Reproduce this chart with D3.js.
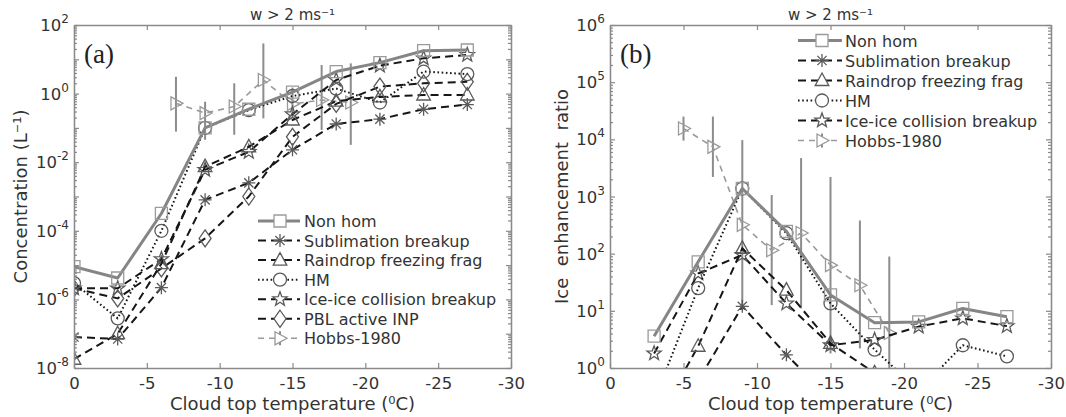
<!DOCTYPE html>
<html>
<head>
<meta charset="utf-8">
<script src="https://cdn.jsdelivr.net/npm/d3@7"></script>
<style>
  body { margin: 0; background: #fff; }
  svg { display: block; font-family: "DejaVu Sans", sans-serif; }
</style>
</head>
<body>
<svg id="chart" width="1066" height="417"></svg>
<script>
// ---- data ----
const xTicks = [0, -5, -10, -15, -20, -25, -30];

// panel (a): concentration (L^-1)
const tempsA = [0, -3, -6, -9, -12, -15, -18, -21, -24, -27];
const nonHomA = [9e-6, 4.2e-6, 3.2e-4, 0.1, 0.35, 1.1, 4.4, 8, 17.8, 18.7];
const sublimA = [8e-8, 7e-8, 2.2e-6, 8e-4, 2.5e-3, 0.023, 0.13, 0.18, 0.35, 0.48];
const raindropA = [1.8e-8, 1e-7, 1.1e-5, 7.4e-3, 0.028, 0.17, 0.6, 0.8, 0.91, 0.91];
const hmA = [3e-6, 2.8e-7, 1e-4, 0.1, 0.33, 0.85, 1.4, 0.55, 4.4, 3.7];
const iceIceA = [2.1e-6, 2.1e-6, 1.5e-5, 6e-3, 0.02, 0.25, 2.5, 6.5, 10.7, 13.4];
const pblA = [2.1e-6, 1.07e-6, 8e-6, 6e-5, 1e-3, 0.055, 0.5, 1.6, 2.0, 2.2];
const hobbsTempsA = [-7, -9, -11, -13, -15, -17, -19];
const hobbsA = [0.52, 0.27, 0.42, 2.5, 0.5, 0.65, 0.55];
const hobbsLoA = [0.078, 0.045, 0.063, 0.19, 0.2, 0.087, 0.032];
const hobbsHiA = [3.1, 0.58, 2.0, 29, 1.5, 6.8, 7.6];
const yExpA = [-8, -6, -4, -2, 0, 2];

// panel (b): ice enhancement ratio
const tempsB = [-3, -6, -9, -12, -15, -18, -21, -24, -27];
const nonHomB = [3.6, 72, 1380, 245, 19, 6.2, 6.4, 11, 7.9];
const sublimB = [0.03, 0.6, 12, 1.7, 0.29, 0.1, 0.05, 0.05, 0.05];
const raindropB = [0.1, 2.4, 124, 23, 2.7, 0.82, 0.3, 0.3, 0.3];
const hmB = [0.27, 25, 1380, 228, 13.5, 2.1, 0.4, 2.5, 1.6];
const iceIceB = [1.8, 45, 95, 13.5, 2.5, 3.1, 5.3, 7.4, 5.4];
const hobbsTempsB = [-5, -7, -9, -11, -13, -15, -17, -19];
const hobbsB = [15500, 7400, 320, 115, 230, 63, 28, 4.1];
const hobbsLoB = [9500, 2200, 12, 12.6, 11, 1.8, 2.2, 0.3];
const hobbsHiB = [25000, 25000, 9700, 1060, 4700, 2200, 380, 89];
const yExpB = [0, 1, 2, 3, 4, 5, 6];

const legendA = ['Non hom', 'Sublimation breakup', 'Raindrop freezing frag', 'HM',
  'Ice-ice collision breakup', 'PBL active INP', 'Hobbs-1980'];
const legendB = ['Non hom', 'Sublimation breakup', 'Raindrop freezing frag', 'HM',
  'Ice-ice collision breakup', 'Hobbs-1980'];

// ---- styles ----
const GRAY = '#858585';
const BLACK = '#161616';
const MK = '#5a5a5a';
const AX = '#8a8a8a';
const TXT = '#333';

const styles = {
  'Non hom': { color: GRAY, width: 3, dash: null, marker: 'square', mcolor: '#9a9a9a' },
  'Sublimation breakup': { color: BLACK, width: 2, dash: '8,5', marker: 'asterisk', mcolor: MK },
  'Raindrop freezing frag': { color: BLACK, width: 2, dash: '8,5', marker: 'triUp', mcolor: MK },
  'HM': { color: BLACK, width: 2, dash: '1.6,2.6', marker: 'circle', mcolor: MK },
  'Ice-ice collision breakup': { color: BLACK, width: 2, dash: '8,5', marker: 'star', mcolor: MK },
  'PBL active INP': { color: BLACK, width: 2, dash: '8,5', marker: 'diamond', mcolor: MK },
  'Hobbs-1980': { color: '#9a9a9a', width: 1.6, dash: '6,5', marker: 'triRight', mcolor: '#9a9a9a' }
};

function markerPath(type) {
  switch (type) {
    case 'square': return 'M-6,-6h12v12h-12z';
    case 'circle': { const p = d3.path(); p.arc(0, 0, 6.5, 0, 2 * Math.PI); p.closePath(); return p.toString(); }
    case 'triUp': return 'M0,-7.5L6.8,5L-6.8,5Z';
    case 'diamond': return 'M0,-8.5L6,0L0,8.5L-6,0Z';
    case 'triRight': return 'M-5,-6.5L7,0L-5,6.5Z';
    case 'asterisk': return 'M-6.5,0H6.5M0,-6.5V6.5M-4.6,-4.6L4.6,4.6M-4.6,4.6L4.6,-4.6';
    case 'star': {
      const pts = [];
      for (let i = 0; i < 10; i++) {
        const r = i % 2 === 0 ? 7.5 : 3.1;
        const a = -Math.PI / 2 + i * Math.PI / 5;
        pts.push([r * Math.cos(a), r * Math.sin(a)]);
      }
      return 'M' + pts.map(p => p.join(',')).join('L') + 'Z';
    }
  }
  return '';
}

const svg = d3.select('#chart');

function drawPanel(cfg) {
  const { L, R, T, B } = cfg;
  const x = d3.scaleLinear().domain([0, -30]).range([L, R]);
  const y = d3.scaleLog().domain(cfg.yDomain).range([B, T]);
  const g = svg.append('g');

  const clipId = 'clip-' + cfg.tag;
  svg.append('clipPath').attr('id', clipId)
    .append('rect').attr('x', L).attr('y', T).attr('width', R - L).attr('height', B - T);

  const plot = g.append('g').attr('clip-path', `url(#${clipId})`);
  const line = d3.line().x(d => x(d[0])).y(d => y(d[1]));

  // Hobbs error bars
  const hob = cfg.hobbs.t.map((t, i) => [t, cfg.hobbs.v[i], cfg.hobbs.lo[i], cfg.hobbs.hi[i]]);
  plot.selectAll('.err').data(hob).join('line')
    .attr('x1', d => x(d[0])).attr('x2', d => x(d[0]))
    .attr('y1', d => y(d[2])).attr('y2', d => y(d[3]))
    .attr('stroke', '#8c8c8c').attr('stroke-width', 2);

  const drawSeries = (name, pts) => {
    const s = styles[name];
    plot.append('path').datum(pts)
      .attr('d', line)
      .attr('fill', 'none')
      .attr('stroke', s.color)
      .attr('stroke-width', s.width)
      .attr('stroke-dasharray', s.dash)
      .attr('stroke-linejoin', 'round');
    plot.selectAll(null).data(pts).join('path')
      .attr('transform', d => `translate(${x(d[0])},${y(d[1])})`)
      .attr('d', markerPath(s.marker))
      .attr('fill', 'none')
      .attr('stroke', s.mcolor)
      .attr('stroke-width', 1.3);
  };

  drawSeries('Hobbs-1980', hob.map(d => [d[0], d[1]]));
  // reverse so Non hom ends on top
  cfg.series.slice().reverse().forEach(s => {
    drawSeries(s.name, cfg.temps.map((t, i) => [t, s.values[i]]));
  });

  // axes
  const styleAxis = sel => {
    sel.selectAll('.domain').attr('stroke', AX).attr('stroke-width', 1.3);
    sel.selectAll('.tick line').attr('stroke', AX).attr('stroke-width', 1.2);
    sel.selectAll('.tick text').attr('fill', TXT).attr('font-size', 16.5)
      .attr('font-family', '"DejaVu Sans", sans-serif');
  };
  g.append('g').attr('transform', `translate(0,${B})`)
    .call(d3.axisBottom(x).tickValues(xTicks).tickSize(-5).tickSizeOuter(0).tickPadding(9)
      .tickFormat(d => String(d)))
    .call(styleAxis);
  g.append('g').attr('transform', `translate(0,${T})`)
    .call(d3.axisTop(x).tickValues(xTicks).tickSize(-5).tickSizeOuter(0).tickFormat(''))
    .call(styleAxis);

  const [e0, e1] = [Math.round(Math.log10(cfg.yDomain[0])), Math.round(Math.log10(cfg.yDomain[1]))];
  const major = d3.range(e0, e1 + 1).map(e => Math.pow(10, e));
  const minor = [];
  for (let e = e0; e < e1; e++) for (let m = 2; m <= 9; m++) minor.push(m * Math.pow(10, e));

  [[L, d3.axisLeft], [R, d3.axisRight]].forEach(([pos, fn]) => {
    g.append('g').attr('transform', `translate(${pos},0)`)
      .call(fn(y).tickValues(major).tickSize(-5).tickSizeOuter(0).tickFormat(''))
      .call(styleAxis);
    g.append('g').attr('transform', `translate(${pos},0)`)
      .call(fn(y).tickValues(minor).tickSize(-3).tickSizeOuter(0).tickFormat(''))
      .call(styleAxis);
  });

  // y tick labels 10^n with raised exponent
  const yl = g.selectAll('.ylab').data(cfg.yExp).join('text')
    .attr('x', L - 5).attr('y', d => y(Math.pow(10, d)) + 6)
    .attr('text-anchor', 'end').attr('fill', TXT).attr('font-size', 16.5);
  yl.append('tspan').text('10');
  yl.append('tspan').attr('font-size', 12).attr('dy', -8)
    .text(d => String(d));

  // titles / labels
  g.append('text').attr('x', (L + R) / 2).attr('y', 20).attr('text-anchor', 'middle')
    .attr('fill', TXT).attr('font-size', 15).text('w > 2 ms\u207B\u00B9');
  g.append('text').attr('x', (L + R) / 2).attr('y', 410).attr('text-anchor', 'middle')
    .attr('fill', TXT).attr('font-size', 18).text('Cloud top temperature (\u2070C)');
  g.append('text')
    .attr('transform', `translate(${cfg.ylabX},${(T + B) / 2}) rotate(-90)`)
    .attr('text-anchor', 'middle').attr('fill', TXT).attr('font-size', 18)
    .style('white-space', 'pre')
    .text(cfg.ylabel);
  g.append('text').attr('x', L + 10).attr('y', 63)
    .attr('font-family', '"Liberation Serif", "Times New Roman", serif')
    .attr('font-size', 27).attr('fill', '#222').text(`(${cfg.tag})`);

  // legend
  const lg = g.append('g');
  cfg.legend.forEach((name, i) => {
    const s = styles[name];
    const cy = cfg.leg.y0 + i * cfg.leg.dy;
    lg.append('line').attr('x1', cfg.leg.x1).attr('x2', cfg.leg.x2)
      .attr('y1', cy).attr('y2', cy)
      .attr('stroke', s.color).attr('stroke-width', s.width)
      .attr('stroke-dasharray', s.dash);
    if (name === 'Hobbs-1980') {
      lg.append('line').attr('x1', cfg.leg.xm).attr('x2', cfg.leg.xm)
        .attr('y1', cy - 7).attr('y2', cy + 7).attr('stroke', '#8c8c8c').attr('stroke-width', 2);
    }
    lg.append('path').attr('transform', `translate(${cfg.leg.xm},${cy})`)
      .attr('d', markerPath(s.marker)).attr('fill', '#fff')
      .attr('stroke', s.mcolor).attr('stroke-width', 1.3);
    lg.append('text').attr('x', cfg.leg.xt).attr('y', cy + 6)
      .attr('fill', TXT).attr('font-size', 16).text(name);
  });
}

drawPanel({
  tag: 'a', L: 74, R: 511, T: 25, B: 368,
  yDomain: [1e-8, 1e2], yExp: yExpA,
  ylabel: 'Concentration (L\u207B\u00B9)', ylabX: 27,
  temps: tempsA,
  series: [
    { name: 'Non hom', values: nonHomA },
    { name: 'Sublimation breakup', values: sublimA },
    { name: 'Raindrop freezing frag', values: raindropA },
    { name: 'HM', values: hmA },
    { name: 'Ice-ice collision breakup', values: iceIceA },
    { name: 'PBL active INP', values: pblA }
  ],
  hobbs: { t: hobbsTempsA, v: hobbsA, lo: hobbsLoA, hi: hobbsHiA },
  legend: legendA,
  leg: { x1: 258, x2: 300, xm: 280, xt: 304, y0: 221, dy: 19.55 }
});

drawPanel({
  tag: 'b', L: 610, R: 1051, T: 25, B: 368,
  yDomain: [1, 1e6], yExp: yExpB,
  ylabel: 'Ice  enhancement  ratio', ylabX: 568,
  temps: tempsB,
  series: [
    { name: 'Non hom', values: nonHomB },
    { name: 'Sublimation breakup', values: sublimB },
    { name: 'Raindrop freezing frag', values: raindropB },
    { name: 'HM', values: hmB },
    { name: 'Ice-ice collision breakup', values: iceIceB }
  ],
  hobbs: { t: hobbsTempsB, v: hobbsB, lo: hobbsLoB, hi: hobbsHiB },
  legend: legendB,
  leg: { x1: 798, x2: 842, xm: 822, xt: 845, y0: 40.5, dy: 20 }
});
</script>
</body>
</html>
